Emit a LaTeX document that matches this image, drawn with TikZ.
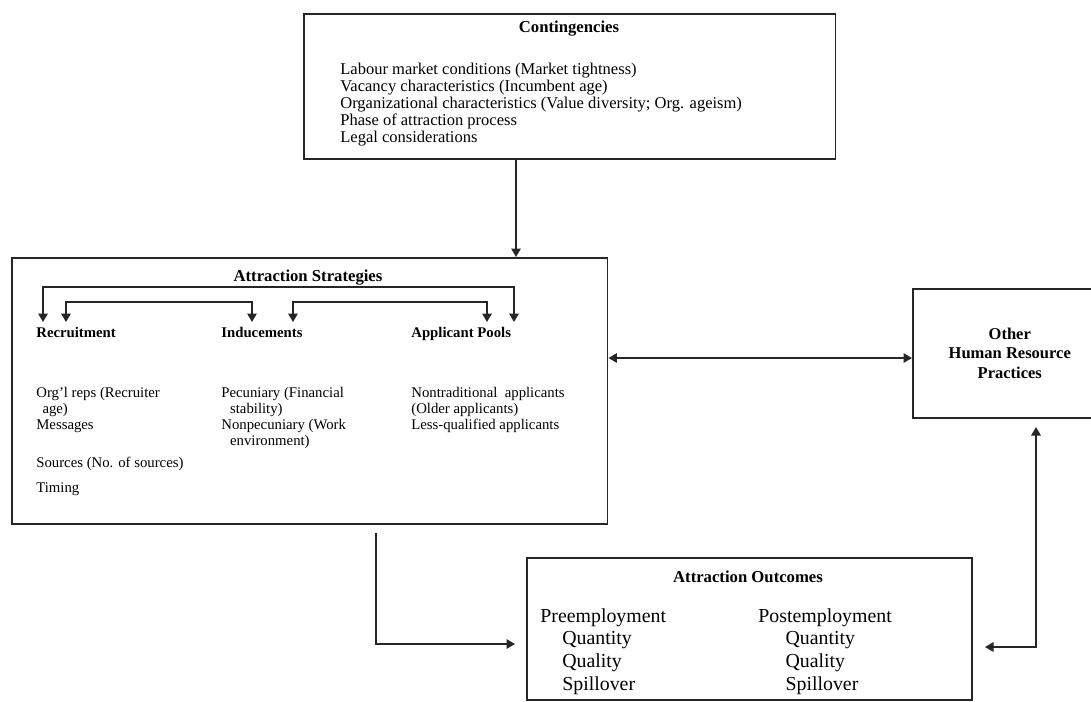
\documentclass[tikz,border=0pt]{standalone}
\usepackage{fontspec}
\setmainfont{Liberation Serif}
\usetikzlibrary{arrows.meta, positioning, calc}

\begin{document}
\begin{tikzpicture}[x=0.02cm,y=-0.02cm,
	box/.style={draw=black!85,line width=0.9pt,inner sep=0pt,anchor=north west},
	ttl/.style={font=\fontsize{9.5}{11}\selectfont\bfseries,inner sep=0pt},
	hd/.style={font=\fontsize{8.4}{9.2}\selectfont\bfseries,anchor=base west,inner sep=0pt},
	txt/.style={font=\fontsize{8.4}{9.1}\selectfont,align=left,anchor=north west,inner sep=0pt},
	big/.style={font=\fontsize{11.3}{12.9}\selectfont,align=left,anchor=north west,inner sep=0pt},
	arr/.style={draw=black!85,line width=0.9pt,-{Triangle[length=1.7mm,width=1.9mm]}},
	arrs/.style={draw=black!85,line width=0.9pt,{Triangle[length=1.7mm,width=1.9mm]}-{Triangle[length=1.7mm,width=1.9mm]}}]
\useasboundingbox (0,0) rectangle (1091,701);
% boxes
\node[box,minimum width=10.64cm,minimum height=2.9cm] (cont) at (303,13) {};
\node[box,minimum width=11.92cm,minimum height=5.32cm] (strat) at (11,257) {};
\node[box,minimum width=3.88cm,minimum height=2.58cm,anchor=north west,
	font=\fontsize{9.4}{11}\selectfont\bfseries,align=center] (hr) at (912,288)
	{Other\\Human Resource\\Practices};
\node[box,minimum width=8.9cm,minimum height=2.84cm] (outc) at (526,557) {};
% contingencies
\node[ttl] (conttl) at (569,29) {Contingencies};
\node[txt,font=\fontsize{9.4}{9.6}\selectfont] (contxt) at (340,63)
	{Labour market conditions (Market tightness)\\
	 Vacancy characteristics (Incumbent age)\\
	 Organizational characteristics (Value diversity; Org. ageism)\\
	 Phase of attraction process\\
	 Legal considerations};
% strategies
\node[ttl] (strttl) at (308,278) {Attraction Strategies};
\node[hd] (rec) at (36,337) {Recruitment};
\node[hd] (ind) at (221,337) {Inducements};
\node[hd] (app) at (411,337) {Applicant Pools};
\node[txt] (rec1) at (36,387) {Org'l reps (Recruiter\\\hspace*{3.5pt}age)\\Messages};
\node[txt] (rec2) at (36,457) {Sources (No. of sources)};
\node[txt] (rec3) at (36,482) {Timing};
\node[txt] (ind1) at (221,387) {Pecuniary (Financial\\\hspace*{5pt}stability)\\Nonpecuniary (Work\\\hspace*{5pt}environment)};
\node[txt] (app1) at (411,387) {Nontraditional\ \ applicants\\(Older applicants)\\Less-qualified applicants};
% outcomes
\node[ttl] (outttl) at (748,577) {Attraction Outcomes};
\node[big] (pre) at (540,608) {Preemployment\\\hspace*{12.5pt}Quantity\\\hspace*{12.5pt}Quality\\\hspace*{12.5pt}Spillover};
\node[big] (post) at (758,608) {Postemployment\\\hspace*{15.5pt}Quantity\\\hspace*{15.5pt}Quality\\\hspace*{15.5pt}Spillover};
% bracket arrows
\coordinate (b1) at (43,322);
\coordinate (b2) at (514,322);
\coordinate (b3) at (66,322);
\coordinate (b4) at (252,322);
\coordinate (b5) at (293,322);
\coordinate (b6) at (487,322);
\draw[arrs] (b1) -- ++(0,-35) -| (b2);
\draw[arrs] (b3) -- ++(0,-20) -| (b4);
\draw[arrs] (b5) -- ++(0,-20) -| (b6);
% connectors
\coordinate (a1) at (516,0);
\coordinate (c0) at (0,358);
\coordinate (d1) at (376,533);
\coordinate (d2) at (515,644);
\coordinate (e1) at (985,647);
\coordinate (e2) at (1036,427);
\draw[arr] (cont.south -| a1) -- (strat.north -| a1);
\draw[arrs] (strat.east |- c0) -- (hr.west |- c0);
\draw[arr] (d1) |- (d2);
\draw[arrs] (e1) -| (e2);
\end{tikzpicture}
\end{document}
